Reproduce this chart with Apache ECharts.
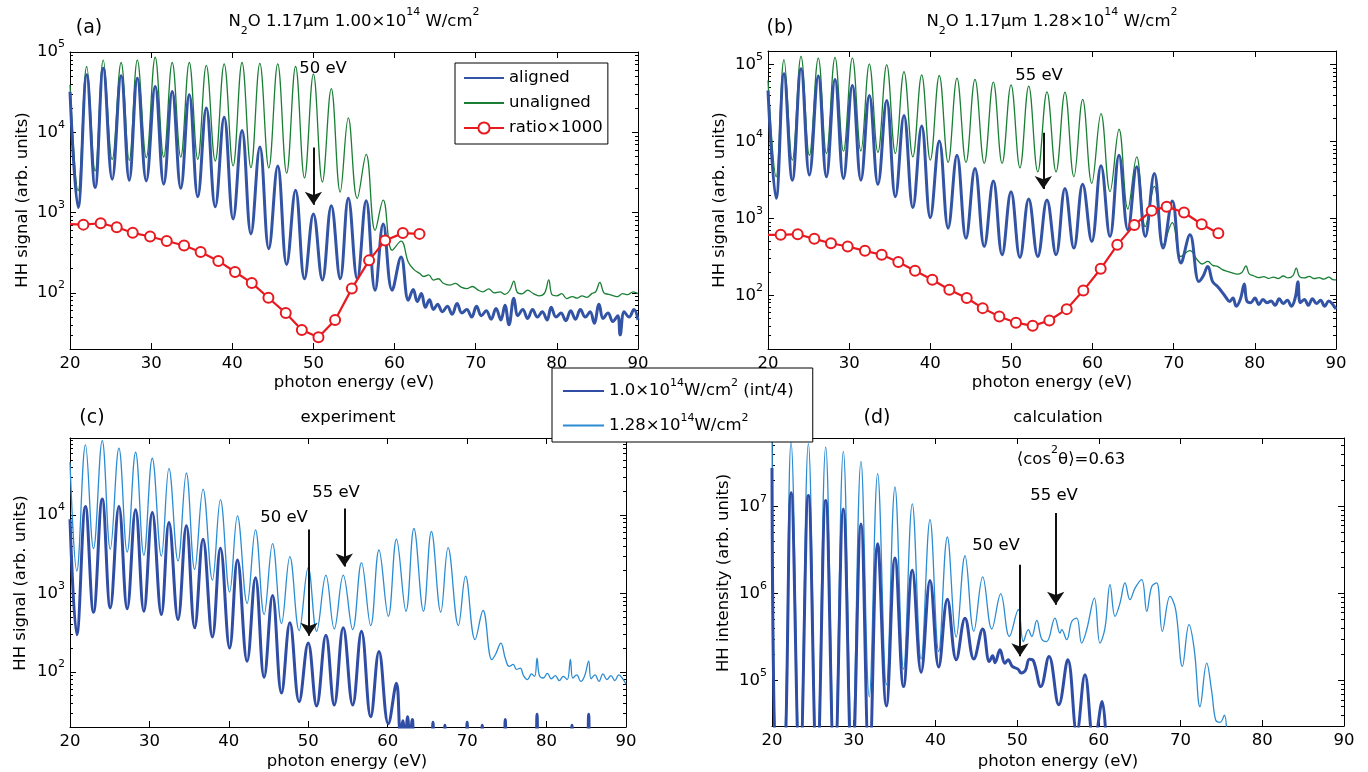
<!DOCTYPE html>
<html><head><meta charset="utf-8">
<script src="https://cdn.jsdelivr.net/npm/echarts/dist/echarts.min.js"></script>
<style>html,body{margin:0;padding:0;background:#fff}#c{width:1368px;height:772px}</style>
</head><body><div id="c"></div>
<script>
// ---------- data (photon energy eV, signal) ----------
const xTicks = [20, 30, 40, 50, 60, 70, 80, 90];

// panel (a)  N2O 1.17um 1.00e14 W/cm2
const alignedA = [[20,32000],[21.0,1160],[22.06,51900],[23.1,2060],[24.1,62800],[25.2,2600],[26.3,50500],[27.3,2530],[28.3,47200],[29.4,2480],[30.5,37200],[31.55,2260],[32.6,32300],[33.65,2010],[34.7,29400],[35.75,1570],[36.8,20100],[37.9,1180],[39.0,15400],[40.1,834],[41.2,10500],[42.3,543],[43.4,6550],[44.5,355],[45.6,3800],[46.7,226],[47.8,1900],[48.9,150],[50.0,960],[51.1,145],[52.2,1220],[53.3,150],[54.3,1510],[55.4,150],[56.5,1400],[57.6,108],[58.6,723],[59.7,108],[60.8,280],[61.7,81],[62.3,110],[62.8,78],[63.3,98],[63.8,66],[64.3,82],[64.8,62],[65.3,72],[65.9,58],[66.5,68],[67.1,54],[67.7,74],[68.3,56],[68.9,62],[69.5,50],[70.1,68],[70.7,52],[71.3,60],[71.9,47],[72.5,64],[73.1,46],[73.6,70],[74.1,40],[74.7,86],[75.2,52],[75.8,62],[76.4,48],[77.0,62],[77.6,50],[78.2,58],[78.8,46],[79.3,66],[79.9,50],[80.5,56],[81.1,45],[81.7,60],[82.3,47],[82.9,62],[83.5,50],[84.1,58],[84.6,42],[85.2,72],[85.7,48],[86.3,56],[86.9,44],[87.5,52],[87.8,30],[88.3,58],[88.9,50],[89.5,62],[90,46]];
const unalignedA = [[20,39000],[21.0,1870],[22.06,66000],[23.1,3300],[24.1,79000],[25.2,4600],[26.3,74000],[27.3,4480],[28.3,79000],[29.4,4830],[30.5,86000],[31.55,4920],[32.6,74000],[33.65,4900],[34.7,74000],[35.75,4600],[36.8,68000],[37.9,4390],[39.0,71000],[40.1,3810],[41.2,74000],[42.3,3630],[43.4,72000],[44.5,3600],[45.6,71000],[46.7,3100],[47.8,66000],[48.9,2700],[50.0,53000],[51.1,2400],[52.2,35000],[53.3,1800],[54.3,15100],[55.4,1500],[56.5,5300],[57.6,600],[58.6,1430],[59.7,340],[60.8,440],[61.7,240],[62.4,195],[63.1,174],[63.6,160],[64.2,168],[64.8,144],[65.4,150],[66.0,132],[66.8,125],[67.5,131],[68.2,118],[68.9,113],[69.6,120],[70.3,108],[70.9,103],[71.6,112],[72.3,100],[73.0,103],[73.6,96],[74.2,108],[74.7,140],[75.1,102],[75.7,97],[76.4,108],[77.1,98],[77.8,92],[78.5,100],[79.0,145],[79.4,95],[80.0,92],[80.6,98],[81.2,85],[81.9,90],[82.5,86],[83.1,92],[83.7,88],[84.3,98],[84.8,104],[85.3,135],[85.8,100],[86.4,96],[87.0,92],[87.5,90],[88.1,98],[88.7,95],[89.4,103],[90,98]];
const ratioA = [[20,720],[21.65,708],[23.78,736],[25.76,657],[27.73,560],[29.87,504],[31.92,442],[34.06,389],[36.1,322],[38.28,250],[40.34,182],[42.4,133],[44.45,87],[46.59,56],[48.57,34.5],[50.62,28],[52.67,46],[54.73,113],[56.86,254],[58.84,449],[61.02,555],[63.07,543]];

// panel (b)  N2O 1.17um 1.28e14 W/cm2
const alignedB = [[20,46000],[21.0,1820],[21.97,75800],[23.0,3140],[24.07,88000],[25.1,3650],[26.2,70700],[27.2,3470],[28.26,64000],[29.3,3300],[30.4,53500],[31.45,3140],[32.49,39700],[33.55,2770],[34.63,34200],[35.7,1910],[36.76,21800],[37.85,1380],[38.94,15900],[40.0,1020],[41.11,10100],[42.2,745],[43.29,6620],[44.4,552],[45.51,4460],[46.65,431],[47.77,3050],[48.85,336],[49.95,2220],[51.05,310],[52.13,1780],[53.25,319],[54.38,1730],[55.5,336],[56.6,2450],[57.7,410],[58.78,2770],[59.9,499],[61.04,4820],[62.15,579],[63.26,6620],[64.35,708],[65.44,4680],[66.5,579],[67.61,3840],[68.7,410],[69.83,1680],[70.9,262],[72.0,610],[73.1,151],[73.6,175],[74.2,237],[74.8,150],[75.4,130],[75.9,112],[76.4,95],[76.9,83],[77.3,92],[77.7,72],[78.2,88],[78.7,140],[79.0,85],[79.5,80],[80.0,92],[80.5,76],[81.0,88],[81.5,80],[82.0,84],[82.5,74],[83.0,90],[83.5,78],[84.0,86],[84.5,72],[85.0,95],[85.3,150],[85.6,80],[86.1,88],[86.6,74],[87.1,90],[87.6,78],[88.1,86],[88.6,72],[89.1,84],[89.6,76],[90,66]];
const unalignedB = [[20,62000],[21.0,3470],[21.97,116000],[23.0,5700],[24.07,128000],[25.1,6620],[26.2,121000],[27.2,6970],[28.26,124000],[29.3,7470],[30.4,122000],[31.45,7470],[32.49,102000],[33.55,7180],[34.63,100000],[35.7,6970],[36.76,81000],[37.85,6300],[38.94,73500],[40.0,5700],[41.11,72000],[42.2,5330],[43.29,66500],[44.4,5330],[45.51,64000],[46.65,5180],[47.77,59000],[48.85,5180],[49.95,54500],[51.05,4540],[52.13,52400],[53.25,4030],[54.38,44000],[55.5,4030],[56.6,43800],[57.7,3470],[58.78,35200],[59.9,2850],[61.04,23000],[62.15,2220],[63.26,14400],[64.35,1320],[65.44,6300],[66.5,780],[67.61,2600],[68.7,450],[69.83,880],[70.9,319],[72.0,380],[72.9,290],[73.5,255],[74.2,275],[74.8,245],[75.4,237],[76.0,215],[76.6,204],[77.2,195],[77.8,188],[78.4,198],[78.9,240],[79.3,190],[79.9,178],[80.5,170],[81.1,175],[81.7,166],[82.3,172],[82.9,165],[83.5,178],[84.1,168],[84.7,180],[85.1,225],[85.5,175],[86.1,168],[86.7,176],[87.3,165],[87.9,170],[88.5,162],[89.1,172],[89.6,160],[90,158]];
const ratioB = [[20,610],[21.56,610],[23.66,622],[25.71,541],[27.76,475],[29.82,431],[31.95,378],[34.01,336],[36.06,270],[38.12,208],[40.25,159],[42.35,118],[44.49,92],[46.46,68],[48.51,53],[50.56,44],[52.62,40],[54.67,47],[56.81,66],[58.86,115],[61.0,221],[63.05,452],[65.15,822],[67.29,1260],[69.13,1420],[71.27,1190],[73.45,838],[75.5,641]];

// panel (c) experiment
const expLow = [[20,8800],[20.86,299],[21.95,12800],[22.96,577],[24.06,15900],[25.07,656],[26.16,12800],[27.2,637],[28.26,11600],[29.3,594],[30.36,10700],[31.5,539],[32.46,8000],[33.6,466],[34.65,7250],[35.7,365],[36.75,4900],[37.93,280],[38.94,3760],[40.1,202],[41.08,2670],[42.3,137],[43.35,1590],[44.44,86],[45.5,942],[46.63,54],[47.68,423],[48.85,42],[49.99,234],[51.05,37],[52.22,293],[53.27,38],[54.4,365],[55.59,38],[56.7,330],[57.86,27],[58.9,183],[60.08,22],[61.1,72],[61.6,16],[61.9,24],[62.2,12],[62.5,27],[62.8,13],[63.1,25],[63.4,12],[65.5,10],[65.7,23],[65.9,10],[67.0,10],[67.2,21],[67.4,10],[69.8,10],[70.0,23],[70.2,10],[71.7,10],[71.9,21],[72.1,10],[74.6,10],[74.8,25],[75.0,10],[78.6,10],[78.8,29],[79.0,10],[83.0,10],[83.2,21],[83.4,10],[85.1,10],[85.3,29],[85.5,10],[90,10]];
const expHigh = [[20,46600],[20.86,1930],[21.95,77600],[22.96,3720],[24.06,88100],[25.07,3650],[26.16,70500],[27.2,3370],[28.26,62600],[29.3,3060],[30.36,52500],[31.5,2990],[32.46,39100],[33.6,2590],[34.65,34100],[35.7,2020],[36.75,21300],[37.93,1480],[38.94,15600],[40.1,1040],[41.08,9710],[42.3,745],[43.35,6430],[44.44,539],[45.5,4310],[46.63,414],[47.68,2940],[48.85,337],[49.99,2130],[51.05,330],[52.22,1710],[53.27,354],[54.4,1710],[55.59,347],[56.7,2470],[57.86,390],[58.9,3570],[60.08,513],[61.1,4890],[62.3,594],[63.3,6700],[64.5,594],[65.5,6140],[66.68,577],[67.6,3830],[68.9,390],[69.8,1660],[71.0,258],[72.0,607],[73.1,144],[73.6,170],[74.25,234],[74.8,150],[75.3,118],[75.8,125],[76.2,108],[76.7,112],[77.1,90],[77.6,80],[78.1,95],[78.5,88],[78.8,150],[79.1,90],[79.6,84],[80.1,96],[80.6,82],[81.1,90],[81.6,78],[82.1,88],[82.6,80],[83.0,145],[83.3,84],[83.8,92],[84.3,76],[84.8,90],[85.3,138],[85.6,82],[86.1,92],[86.6,76],[87.1,95],[87.6,80],[88.1,90],[88.6,78],[89.1,92],[89.6,82],[90,70]];

// panel (d) calculation
const calcLow = [[20.0,27600000],[20.6,8000],[21.3,8000],[22.33,14300000],[23.4,8000],[24.45,13300000],[25.5,8000],[26.57,11700000],[27.65,8000],[28.73,9300000],[29.8,8000],[30.89,6270000],[31.9,10000],[32.93,3720000],[34.0,51000],[35.05,2550000],[36.1,85000],[37.17,1840000],[38.25,124000],[39.34,1410000],[40.4,143000],[41.46,860000],[42.55,173000],[43.62,520000],[44.7,176000],[45.79,390000],[46.6,165000],[47.0,192000],[47.3,160000],[47.9,225000],[48.5,158000],[48.9,173000],[49.4,145000],[50.1,135000],[50.5,122000],[51.0,130000],[51.5,175000],[52.0,168000],[52.9,85000],[53.9,189000],[55.1,52600],[56.2,173000],[57.3,25000],[58.3,116000],[59.4,18000],[60.4,57400],[61.0,10000]];
const calcHigh = [[20.0,200000000],[20.6,12000],[21.3,12000],[22.33,54400000],[23.4,12000],[24.45,52600000],[25.5,12000],[26.57,48100000],[27.65,12000],[28.73,42800000],[29.8,15000],[30.89,32900000],[31.9,65000],[32.93,23800000],[34.0,89000],[35.05,16700000],[36.1,135000],[37.17,10700000],[38.25,176000],[39.34,7030000],[40.4,215000],[41.46,4450000],[42.55,315000],[43.62,2710000],[44.7,366000],[45.79,1550000],[46.9,390000],[47.99,990000],[49.05,320000],[50.14,650000],[50.76,280000],[51.37,383000],[51.78,320000],[52.4,490000],[53.0,300000],[53.6,280000],[54.63,520000],[55.25,350000],[55.45,383000],[56.07,294000],[56.68,477000],[57.29,520000],[57.9,269000],[58.51,383000],[59.45,885000],[60.14,269000],[60.75,400000],[61.37,1260000],[61.98,545000],[62.59,774000],[63.2,1320000],[63.81,847000],[64.43,1150000],[65.24,1440000],[65.86,621000],[66.47,1200000],[67.08,1320000],[67.77,366000],[68.71,925000],[69.4,650000],[70.22,145000],[71.03,437000],[71.68,225000],[72.38,50000],[73.2,158000],[73.81,75000],[74.3,35000],[74.83,33000],[75.36,40000],[75.85,15000],[76.5,8000]];

// annotation arrows: [energy, from, to]
const arrowsA = [[50.0, 6480, 1250]];
const arrowsB = [[53.93, 13000, 2400]];
const arrowsC = [[50.1, 6530, 290], [54.53, 12070, 2200]];
const arrowsD = [[50.35, 2140000, 190000], [54.72, 8400000, 740000]];

// ---------- chart ----------
const F = 'DejaVu Sans';
const C_AL = '#3354a5', C_UN = '#1a7f35', C_RA = '#e8191f', C_LOW = '#2f4da4', C_HIGH = '#2b8cd3';
const grids = [
  {left:70, top:52, width:568, height:297},
  {left:768, top:51, width:568, height:298},
  {left:70, top:438, width:556, height:289},
  {left:772, top:438, width:572, height:288}
];
const yRanges = [[20,1e5],[20,1.5e5],[20,9.5e4],[3e4,6.1e7]];

const supFmt = v => {
  const l = Math.log10(v), e = Math.round(l);
  if (Math.abs(l - e) > 1e-6) return '';
  return '{b|10}{s|' + e + '}';
};
const xAxes = [], yAxes = [];
grids.forEach((g, i) => {
  ['bottom','top'].forEach(pos => xAxes.push({
    gridIndex:i, type:'value', position:pos, min:xTicks[0], max:xTicks[xTicks.length-1], interval:10,
    axisLine:{show:true, onZero:false, lineStyle:{color:'#000', width:1}},
    axisTick:{show:true, inside:true, length:6, lineStyle:{color:'#000'}},
    axisLabel:{show:pos==='bottom', margin:6, fontSize:16.5, fontFamily:F, color:'#000'},
    splitLine:{show:false}
  }));
  ['left','right'].forEach(pos => yAxes.push({
    gridIndex:i, type:'log', logBase:10, position:pos, min:yRanges[i][0], max:yRanges[i][1],
    axisLine:{show:true, onZero:false, lineStyle:{color:'#000', width:1}},
    axisTick:{show:true, inside:true, length:6, lineStyle:{color:'#000'}},
    minorTick:{show:true, splitNumber:9, length:3, lineStyle:{color:'#000'}},
    axisLabel:{show:pos==='left', margin:5, formatter:supFmt, color:'#000',
      rich:{b:{fontSize:16.5, fontFamily:F, color:'#000', lineHeight:26},
            s:{fontSize:11, fontFamily:F, color:'#000', lineHeight:14, verticalAlign:'top'}}},
    splitLine:{show:false}
  }));
});

function lineS(name, data, g, color, width, z) {
  return {type:'line', name, data, xAxisIndex:2*g, yAxisIndex:2*g, symbol:'none', showSymbol:false,
    smooth:0.4, lineStyle:{color, width}, itemStyle:{color}, silent:true, z:z||2, clip:true};
}
function ratioS(data, g) {
  return {type:'line', name:'ratio×1000', xAxisIndex:2*g, yAxisIndex:2*g,
    data: data.map((p, i) => i === 0 ? {value:p, symbol:'none'} : {value:p}),
    symbol:'emptyCircle', symbolSize:10, showSymbol:true, showAllSymbol:true, smooth:false,
    lineStyle:{color:C_RA, width:2.2}, itemStyle:{color:C_RA, borderWidth:2}, silent:true, z:4, clip:true};
}
function arrowS(list, g) {
  return {type:'line', xAxisIndex:2*g, yAxisIndex:2*g, data:[], silent:true, z:6,
    markLine:{silent:true, symbol:['none','arrow'], symbolSize:13, animation:false,
      label:{show:false}, emphasis:{disabled:true},
      lineStyle:{color:'#111', width:2, type:'solid'},
      data: list.map(a => [{coord:[a[0], a[1]]}, {coord:[a[0], a[2]]}])}};
}
const N1 = '1.0e14 (int/4)', N2 = '1.28e14';
const series = [
  lineS('unaligned', unalignedA, 0, C_UN, 1.3, 2),
  lineS('aligned', alignedA, 0, C_AL, 3, 3),
  ratioS(ratioA, 0), arrowS(arrowsA, 0),
  lineS('unaligned', unalignedB, 1, C_UN, 1.3, 2),
  lineS('aligned', alignedB, 1, C_AL, 3, 3),
  ratioS(ratioB, 1), arrowS(arrowsB, 1),
  lineS(N2, expHigh, 2, C_HIGH, 1.3, 2),
  lineS(N1, expLow, 2, C_LOW, 3, 3),
  arrowS(arrowsC, 2),
  lineS(N2, calcHigh, 3, C_HIGH, 1.3, 2),
  lineS(N1, calcLow, 3, C_LOW, 3, 3),
  arrowS(arrowsD, 3)
];

const base = {fontSize:16.5, fontFamily:F, fill:'#000'};
function txt(x, y, text, opt) {
  return Object.assign({type:'text', x, y, silent:true, z:10,
    style:Object.assign({}, base, {text, textAlign:'center', textVerticalAlign:'middle'}, opt || {})});
}
const richT = {
  n:{fontSize:16.5, fontFamily:F, fill:'#000', lineHeight:30},
  sup:{fontSize:11, fontFamily:F, fill:'#000', lineHeight:16, verticalAlign:'top'},
  sub:{fontSize:11, fontFamily:F, fill:'#000', lineHeight:10, verticalAlign:'bottom'}
};
function rtxt(x, y, text) { return txt(x, y, text, {rich:richT}); }
function vtxt(x, y, text) {
  const t = txt(x, y, text); t.rotation = Math.PI / 2; return t;
}
const graphic = [
  txt(89, 28, '(a)', {fontSize:19}),
  rtxt(354, 22, '{n|N}{sub|2}{n|O 1.17μm 1.00×10}{sup|14}{n| W/cm}{sup|2}'),
  txt(780, 28, '(b)', {fontSize:19}),
  rtxt(1052, 22, '{n|N}{sub|2}{n|O 1.17μm 1.28×10}{sup|14}{n| W/cm}{sup|2}'),
  txt(92, 418, '(c)', {fontSize:19}),
  txt(348, 418, 'experiment'),
  txt(877, 418, '(d)', {fontSize:19}),
  txt(1058, 418, 'calculation'),
  vtxt(23, 200, 'HH signal (arb. units)'),
  vtxt(720, 200, 'HH signal (arb. units)'),
  vtxt(21, 583, 'HH signal (arb. units)'),
  vtxt(724, 573, 'HH intensity (arb. units)'),
  txt(354, 383, 'photon energy (eV)'),
  txt(1052, 383, 'photon energy (eV)'),
  txt(347, 762, 'photon energy (eV)'),
  txt(1058, 762, 'photon energy (eV)'),
  txt(323, 69, '50 eV'),
  txt(1039, 76, '55 eV'),
  txt(284, 518, '50 eV'),
  txt(336, 493, '55 eV'),
  rtxt(1071, 460, '{n|⟨cos}{sup|2}{n|θ⟩=0.63}'),
  txt(1054, 496, '55 eV'),
  txt(996, 546, '50 eV')
];

const legendRich = {
  t:{fontSize:16.5, fontFamily:F, color:'#000', lineHeight:26},
  s:{fontSize:11, fontFamily:F, color:'#000', lineHeight:14, verticalAlign:'top'}
};
const hideSym = {opacity:0};
const option = {
  animation:false,
  backgroundColor:'#fff',
  grid: grids,
  xAxis: xAxes,
  yAxis: yAxes,
  series,
  graphic,
  legend:[
    {data:[{name:'aligned', itemStyle:hideSym}, {name:'unaligned', itemStyle:hideSym}, 'ratio×1000'],
     orient:'vertical', left:455, top:63,
     selectedMode:false, backgroundColor:'#fff', borderColor:'#000', borderWidth:1,
     padding:[5,5,6,8], itemGap:5, itemWidth:40, itemHeight:14,
     textStyle:{fontSize:16.5, fontFamily:F, color:'#000', lineHeight:20}},
    {data:[{name:N1, itemStyle:hideSym}, {name:N2, itemStyle:hideSym}], orient:'vertical', left:552, top:368, z:20,
     selectedMode:false, backgroundColor:'#fff', borderColor:'#000', borderWidth:1,
     padding:[10,19,8,10], itemGap:13, itemWidth:41, itemHeight:14,
     formatter: n => n === N1 ? '{t|1.0×10}{s|14}{t|W/cm}{s|2}{t| (int/4)}' : '{t|1.28×10}{s|14}{t|W/cm}{s|2}',
     textStyle:{fontSize:16.5, fontFamily:F, color:'#000', rich:legendRich}}
  ]
};
const chart = echarts.init(document.getElementById('c'), null, {renderer:'canvas'});
chart.setOption(option);
</script></body></html>
